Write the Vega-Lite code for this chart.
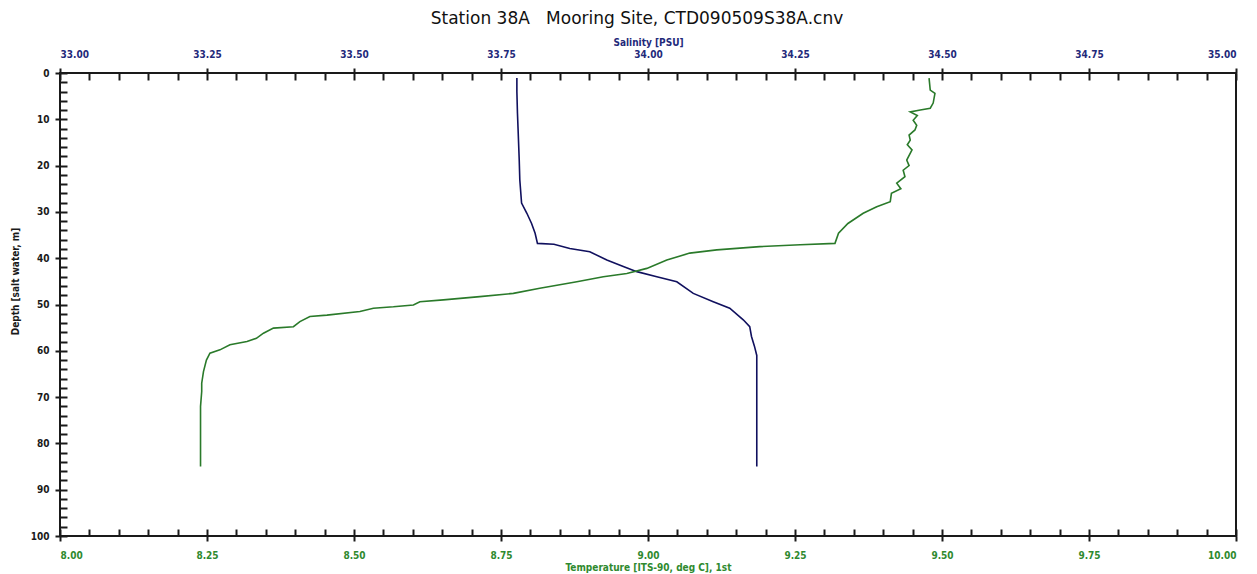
{
  "$schema": "https://vega.github.io/schema/vega-lite/v6.json",
  "autosize": {"type": "none"},
  "width": 1176,
  "height": 463,
  "padding": {"left": 60, "top": 73, "right": 21, "bottom": 38},
  "background": "white",
  "title": {
    "text": "Station 38A\u00a0\u00a0\u00a0Mooring Site, CTD090509S38A.cnv",
    "font": "DejaVu Sans",
    "fontSize": 17,
    "fontWeight": "normal",
    "color": "#111111",
    "anchor": "middle",
    "offset": 9,
    "dx": -11
  },
  "config": {
    "view": {"stroke": "#1a1a1a", "strokeWidth": 2},
    "axis": {
      "grid": false,
      "domain": false,
      "tickColor": "#1a1a1a",
      "tickWidth": 2,
      "labelFont": "DejaVu Sans Condensed",
      "labelFontWeight": "bold",
      "labelFontSize": 10,
      "titleFont": "DejaVu Sans Condensed",
      "titleFontWeight": "bold",
      "titleFontSize": 10
    }
  },
  "datasets": {
    "sal": [
      {"depth": 1.1, "sal": 33.777}, {"depth": 4, "sal": 33.777}, {"depth": 8.7, "sal": 33.778},
      {"depth": 12, "sal": 33.779}, {"depth": 18.8, "sal": 33.781}, {"depth": 23.1, "sal": 33.782},
      {"depth": 28.1, "sal": 33.785}, {"depth": 30.3, "sal": 33.794}, {"depth": 32.5, "sal": 33.802},
      {"depth": 34.6, "sal": 33.808}, {"depth": 36.8, "sal": 33.812}, {"depth": 37.0, "sal": 33.84},
      {"depth": 37.9, "sal": 33.867}, {"depth": 38.6, "sal": 33.901}, {"depth": 40.4, "sal": 33.93},
      {"depth": 41.8, "sal": 33.958}, {"depth": 42.9, "sal": 33.981}, {"depth": 44.0, "sal": 34.015},
      {"depth": 45.1, "sal": 34.049}, {"depth": 47.6, "sal": 34.077}, {"depth": 49.4, "sal": 34.111},
      {"depth": 50.8, "sal": 34.139}, {"depth": 53.3, "sal": 34.162}, {"depth": 54.8, "sal": 34.173},
      {"depth": 56.9, "sal": 34.176}, {"depth": 59, "sal": 34.181}, {"depth": 61, "sal": 34.185},
      {"depth": 70, "sal": 34.185}, {"depth": 85, "sal": 34.185}
    ],
    "temp": [
      {"depth": 1.1, "temp": 9.478}, {"depth": 3.7, "temp": 9.48}, {"depth": 4.4, "temp": 9.488},
      {"depth": 6.5, "temp": 9.485}, {"depth": 7.6, "temp": 9.48}, {"depth": 8.0, "temp": 9.463},
      {"depth": 8.4, "temp": 9.446}, {"depth": 9.2, "temp": 9.458}, {"depth": 10.2, "temp": 9.451},
      {"depth": 11.3, "temp": 9.457}, {"depth": 12.3, "temp": 9.454}, {"depth": 13.4, "temp": 9.444},
      {"depth": 14.5, "temp": 9.446}, {"depth": 15.5, "temp": 9.441}, {"depth": 16.6, "temp": 9.449},
      {"depth": 18.8, "temp": 9.44}, {"depth": 20.0, "temp": 9.444}, {"depth": 21.0, "temp": 9.434},
      {"depth": 22.4, "temp": 9.437}, {"depth": 23.8, "temp": 9.423}, {"depth": 25.0, "temp": 9.43},
      {"depth": 26.0, "temp": 9.414}, {"depth": 27.8, "temp": 9.412}, {"depth": 28.9, "temp": 9.389},
      {"depth": 30.3, "temp": 9.366}, {"depth": 32.5, "temp": 9.34}, {"depth": 34.6, "temp": 9.324},
      {"depth": 36.8, "temp": 9.318}, {"depth": 37.1, "temp": 9.259}, {"depth": 37.5, "temp": 9.19},
      {"depth": 38.2, "temp": 9.117}, {"depth": 38.9, "temp": 9.071}, {"depth": 40.4, "temp": 9.032},
      {"depth": 42.2, "temp": 8.998}, {"depth": 43.3, "temp": 8.964}, {"depth": 44.0, "temp": 8.924},
      {"depth": 45.1, "temp": 8.879}, {"depth": 46.5, "temp": 8.816}, {"depth": 47.6, "temp": 8.771},
      {"depth": 48.3, "temp": 8.714}, {"depth": 49.0, "temp": 8.652}, {"depth": 49.4, "temp": 8.612},
      {"depth": 50.1, "temp": 8.601}, {"depth": 50.5, "temp": 8.567}, {"depth": 50.8, "temp": 8.533},
      {"depth": 51.5, "temp": 8.51}, {"depth": 52.3, "temp": 8.454}, {"depth": 52.6, "temp": 8.425},
      {"depth": 53.7, "temp": 8.408}, {"depth": 54.8, "temp": 8.397}, {"depth": 55.1, "temp": 8.363},
      {"depth": 56.2, "temp": 8.346}, {"depth": 57.3, "temp": 8.334}, {"depth": 58.0, "temp": 8.318},
      {"depth": 58.7, "temp": 8.289}, {"depth": 59.8, "temp": 8.272}, {"depth": 60.5, "temp": 8.255},
      {"depth": 62.0, "temp": 8.249}, {"depth": 64.5, "temp": 8.244}, {"depth": 67.0, "temp": 8.241},
      {"depth": 68.8, "temp": 8.241}, {"depth": 72.0, "temp": 8.239}, {"depth": 85.0, "temp": 8.239}
    ]
  },
  "layer": [
    {
      "data": {"name": "sal"},
      "mark": {"type": "line", "color": "#10105e", "strokeWidth": 1.6},
      "encoding": {
        "x": {
          "field": "sal", "type": "quantitative",
          "scale": {"domain": [33, 35], "nice": false, "zero": false},
          "axis": {
            "orient": "top", "title": "Salinity [PSU]", "format": ".2f",
            "values": [33, 33.25, 33.5, 33.75, 34, 34.25, 34.5, 34.75, 35],
            "tickSize": 5, "labelPadding": 9, "titlePadding": 2,
            "labelColor": "#1f2a7a", "titleColor": "#1f2a7a"
          }
        },
        "y": {
          "field": "depth", "type": "quantitative",
          "scale": {"domain": [0, 100], "reverse": true, "nice": false, "zero": false},
          "axis": {
            "orient": "left", "title": "Depth [salt water, m]",
            "values": [0, 10, 20, 30, 40, 50, 60, 70, 80, 90, 100],
            "tickSize": 5, "labelPadding": 6, "labelColor": "#1a1a1a", "titleColor": "#1a1a1a",
            "titleX": -45, "titleY": 208, "titleBaseline": "middle"
          }
        },
        "order": {"field": "depth", "type": "quantitative"}
      }
    },
    {
      "data": {"name": "temp"},
      "mark": {"type": "line", "color": "#2a7a2a", "strokeWidth": 1.6},
      "encoding": {
        "x": {
          "field": "temp", "type": "quantitative",
          "scale": {"domain": [8, 10], "nice": false, "zero": false},
          "axis": {
            "orient": "bottom", "title": "Temperature [ITS-90, deg C], 1st", "format": ".2f",
            "values": [8, 8.25, 8.5, 8.75, 9, 9.25, 9.5, 9.75, 10],
            "tickSize": 5, "labelPadding": 9, "titlePadding": 2,
            "labelColor": "#2f8a2f", "titleColor": "#2f8a2f"
          }
        },
        "y": {"field": "depth", "type": "quantitative", "axis": null},
        "order": {"field": "depth", "type": "quantitative"}
      }
    },
    {
      "data": {"name": "sal"},
      "mark": {"type": "line", "opacity": 0},
      "encoding": {
        "x": {
          "field": "sal", "type": "quantitative",
          "scale": {"domain": [33, 35], "nice": false, "zero": false},
          "axis": {
            "orient": "top", "title": null, "labels": false, "tickSize": -7,
            "values": [33, 33.05, 33.1, 33.15, 33.2, 33.25, 33.3, 33.35, 33.4, 33.45, 33.5, 33.55, 33.6, 33.65, 33.7, 33.75, 33.8, 33.85, 33.9, 33.95, 34, 34.05, 34.1, 34.15, 34.2, 34.25, 34.3, 34.35, 34.4, 34.45, 34.5, 34.55, 34.6, 34.65, 34.7, 34.75, 34.8, 34.85, 34.9, 34.95, 35]
          }
        },
        "y": {
          "field": "depth", "type": "quantitative",
          "axis": {
            "orient": "left", "title": null, "labels": false, "tickSize": -7,
            "values": [0, 2, 4, 6, 8, 10, 12, 14, 16, 18, 20, 22, 24, 26, 28, 30, 32, 34, 36, 38, 40, 42, 44, 46, 48, 50, 52, 54, 56, 58, 60, 62, 64, 66, 68, 70, 72, 74, 76, 78, 80, 82, 84, 86, 88, 90, 92, 94, 96, 98, 100]
          }
        }
      }
    },
    {
      "data": {"name": "temp"},
      "mark": {"type": "line", "opacity": 0},
      "encoding": {
        "x": {
          "field": "temp", "type": "quantitative",
          "scale": {"domain": [8, 10], "nice": false, "zero": false},
          "axis": {
            "orient": "bottom", "title": null, "labels": false, "tickSize": -7,
            "values": [8, 8.05, 8.1, 8.15, 8.2, 8.25, 8.3, 8.35, 8.4, 8.45, 8.5, 8.55, 8.6, 8.65, 8.7, 8.75, 8.8, 8.85, 8.9, 8.95, 9, 9.05, 9.1, 9.15, 9.2, 9.25, 9.3, 9.35, 9.4, 9.45, 9.5, 9.55, 9.6, 9.65, 9.7, 9.75, 9.8, 9.85, 9.9, 9.95, 10]
          }
        },
        "y": {"field": "depth", "type": "quantitative", "axis": null}
      }
    }
  ],
  "resolve": {
    "scale": {"x": "independent"},
    "axis": {"x": "independent", "y": "independent"}
  }
}
